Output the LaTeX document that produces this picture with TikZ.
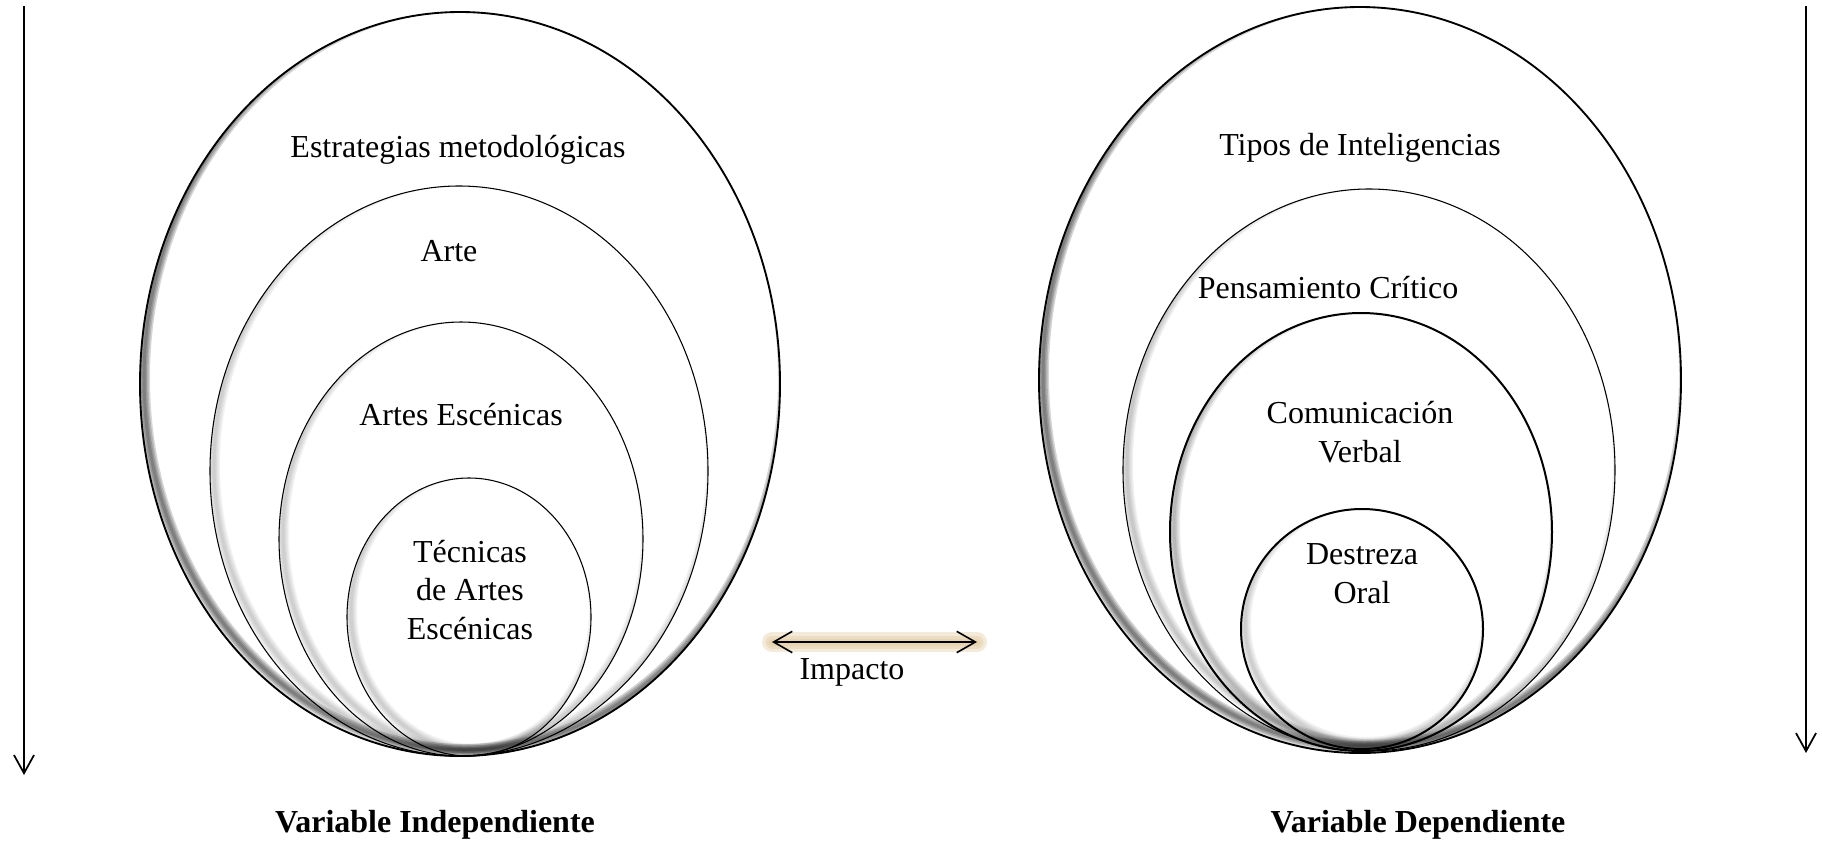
\documentclass[tikz,border=0pt]{standalone}
\usepackage{fontspec}
\setmainfont{Liberation Serif}
\usetikzlibrary{arrows.meta}
\definecolor{glowtan}{RGB}{222,196,150}

\begin{document}
\begin{tikzpicture}[x=0.375pt, y=-0.375pt,
    every node/.style={font=\fontsize{12}{14.6}\selectfont, align=center, inner sep=0pt},
    varlabel/.style={font=\fontsize{12}{14.6}\selectfont\bfseries},
    vararrow/.style={line width=0.65pt, -{Straight Barb[length=6.8pt,width=7.5pt]}},
    impactarrow/.style={line width=0.6pt, {Straight Barb[length=7pt,width=8pt]}-{Straight Barb[length=7pt,width=8pt]}},
    glow/.style={glowtan, line cap=round, opacity=0.35}]
    \useasboundingbox (0,0) rectangle (1822,844);

    % nested ellipses: cx/cy/rx/ry/line width/shade opacity
    \foreach \cx/\cy/\rx/\ry/\w/\o in {460/384/320/372/0.7pt/0.16, 459/471/249/285/0.4pt/0.05, 461/539/182/217/0.4pt/0.05, 469/617/122/139/0.4pt/0.05,
                                       1360/380/321/373/0.7pt/0.16, 1369/470/246/281/0.4pt/0.06, 1361/532/191/219/0.75pt/0.08, 1362/629/121/120/0.75pt/0.05} {
        \begin{scope}
            \clip (\cx,\cy) ellipse [x radius=\rx, y radius=\ry];
            \foreach \s in {3,6,9,12}
                \draw[black, opacity=\o, line width=\s*0.375pt] (\cx+4,\cy-6) ellipse [x radius=\rx, y radius=\ry];
        \end{scope}
        \draw[line width=\w] (\cx,\cy) ellipse [x radius=\rx, y radius=\ry];
    }

    \node (estrategias) at (458,150) {Estrategias metodológicas};
    \node (arte) at (449,251) {Arte};
    \node (escenicas) at (461,415) {Artes Escénicas};
    \node (tecnicas) at (470,590) {Técnicas\\de Artes\\Escénicas};

    \node (tipos) at (1360,148) {Tipos de Inteligencias};
    \node (pensamiento) at (1328,288) {Pensamiento Crítico};
    \node (comunicacion) at (1360,432) {Comunicación\\Verbal};
    \node (destreza) at (1362,574) {Destreza\\Oral};

    \node[varlabel] (independiente) at (435,825) {Variable Independiente};
    \node[varlabel] (dependiente) at (1418,825) {Variable Dependiente};

    % side arrows
    \coordinate (left top) at (24,6);
    \coordinate (left end) at (24,775);
    \coordinate (right top) at (1806,6);
    \coordinate (right end) at (1806,753);
    \draw[vararrow] (left top) -- (left end);
    \draw[vararrow] (right top) -- (right end);

    % impact arrow
    \coordinate (impact left) at (772,642);
    \coordinate (impact right) at (977,642);
    \foreach \g in {20,13,7}
        \draw[glow, line width=\g*0.375pt] (impact left) -- (impact right);
    \draw[impactarrow] (impact left) -- (impact right);
    \node (impacto) at (852,672) {Impacto};
\end{tikzpicture}
\end{document}
